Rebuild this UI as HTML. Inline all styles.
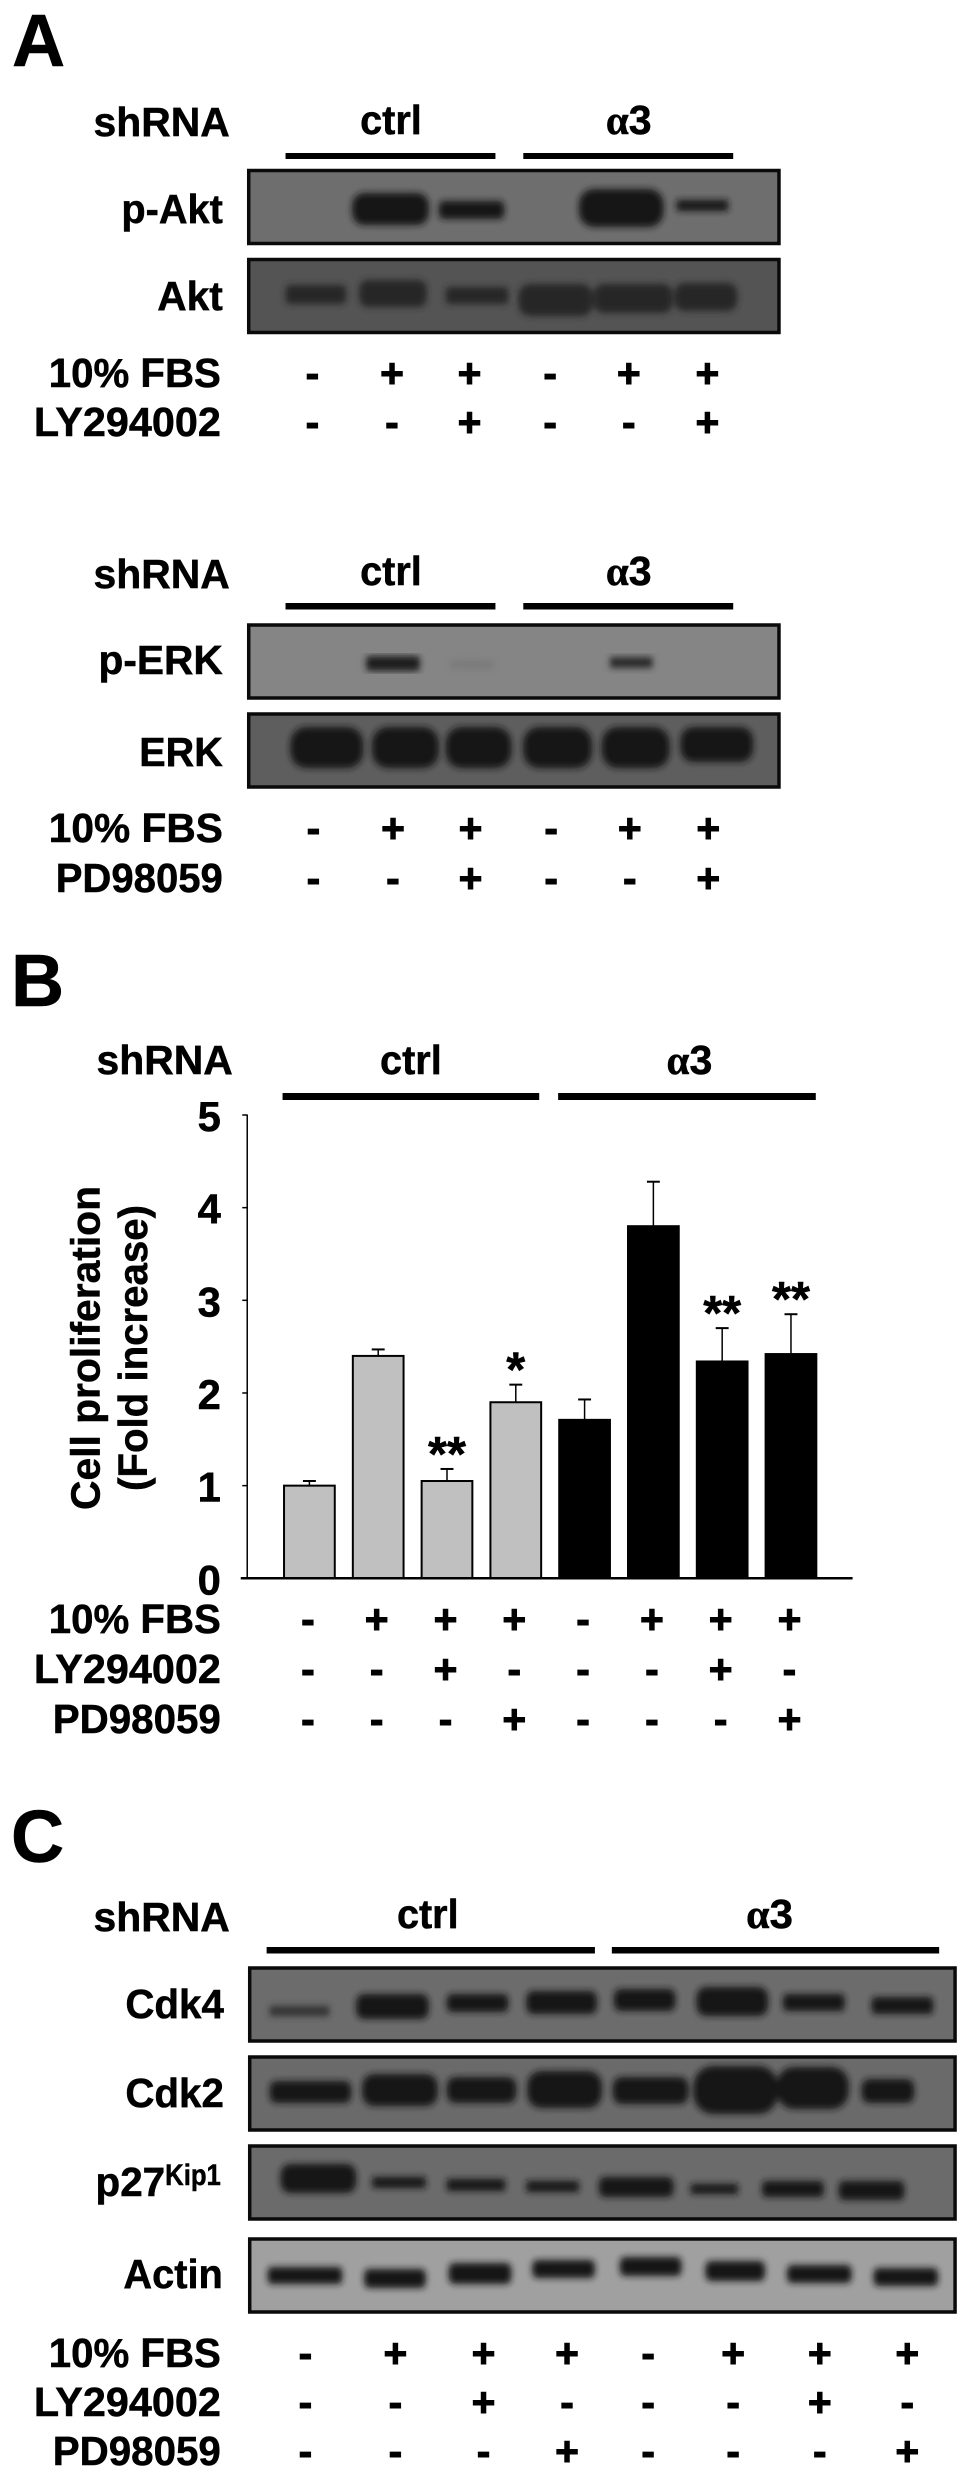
<!DOCTYPE html>
<html lang="en">
<head>
<meta charset="utf-8">
<title>Western blots and cell proliferation chart</title>
<style>
html,body{margin:0;padding:0;background:#fff;}
svg{display:block;}
text{font-family:"Liberation Sans",Arial,sans-serif;font-weight:bold;fill:#000;stroke:#000;stroke-width:.5;}
.lbl{font-size:41px;}
.sign{font-size:41px;text-anchor:middle;stroke-width:1;}
.letter{font-size:74px;}
.alpha{font-family:"Liberation Serif",serif;}
.blot{stroke:#0a0a0a;stroke-width:3.5;}
.bands rect{fill:#181818;}
</style>
</head>
<body>
<svg id="fig" xmlns="http://www.w3.org/2000/svg" width="969" height="2479" viewBox="0 0 974 2479" preserveAspectRatio="none">
<defs>
<filter id="blur" x="-30%" y="-100%" width="160%" height="300%"><feMorphology operator="dilate" radius="2 4"/><feGaussianBlur stdDeviation="3.2 3.5"/></filter>
</defs>
<rect width="974" height="2479" fill="#fff"/>

<!-- PANEL A -->
<g>
<text class="letter" x="12" y="66">A</text>
<text class="lbl" x="94" y="136" textLength="137" lengthAdjust="spacingAndGlyphs">shRNA</text>
<text class="lbl" x="362" y="134" textLength="62" lengthAdjust="spacingAndGlyphs">ctrl</text>
<text class="lbl" x="609" y="134" textLength="46" lengthAdjust="spacingAndGlyphs"><tspan class="alpha">α</tspan>3</text>
<rect x="287" y="153" width="211" height="6"/>
<rect x="526" y="153" width="211" height="6"/>

<rect class="blot" x="250" y="170.5" width="533" height="73" fill="#6e6e6e"/>
<g class="bands" filter="url(#blur)">
<rect x="356" y="197" width="73" height="24" rx="12"/>
<rect x="443" y="205" width="62" height="10" rx="5"/>
<rect x="584" y="193" width="81" height="30" rx="15"/>
<rect x="682" y="204" width="48" height="3" rx="1"/>
</g>
<rect class="blot" x="250" y="259.5" width="533" height="73" fill="#545454"/>
<g class="bands" filter="url(#blur)">
<rect x="289" y="289" width="57" height="11" rx="5" style="fill:#262626"/>
<rect x="363" y="284" width="64" height="19" rx="9" style="fill:#262626"/>
<rect x="450" y="291" width="59" height="9" rx="4" style="fill:#262626"/>
<rect x="523" y="288" width="71" height="24" rx="12" style="fill:#262626"/>
<rect x="599" y="288" width="75" height="21" rx="10" style="fill:#262626"/>
<rect x="680" y="287" width="59" height="20" rx="10" style="fill:#262626"/>
</g>
<text class="lbl" x="122" y="223" textLength="102" lengthAdjust="spacingAndGlyphs">p-Akt</text>
<text class="lbl" x="158" y="310" textLength="66" lengthAdjust="spacingAndGlyphs">Akt</text>

<text class="lbl" x="49" y="387" textLength="173" lengthAdjust="spacingAndGlyphs">10% FBS</text>
<text class="lbl" x="34" y="436" textLength="188" lengthAdjust="spacingAndGlyphs">LY294002</text>
<text class="sign" x="314 394 472 553 632 711" y="387">-++-++</text>
<text class="sign" x="314 394 472 553 632 711" y="436">--+--+</text>

<text class="lbl" x="94" y="588" textLength="137" lengthAdjust="spacingAndGlyphs">shRNA</text>
<text class="lbl" x="362" y="585" textLength="62" lengthAdjust="spacingAndGlyphs">ctrl</text>
<text class="lbl" x="609" y="585" textLength="46" lengthAdjust="spacingAndGlyphs"><tspan class="alpha">α</tspan>3</text>
<rect x="287" y="603" width="211" height="6.5"/>
<rect x="526" y="603" width="211" height="6.5"/>

<rect class="blot" x="250" y="625" width="533" height="73" fill="#858585"/>
<g class="bands" filter="url(#blur)">
<rect x="370" y="660" width="50" height="7" rx="3" style="fill:#1c1c1c"/>
<rect x="454" y="664" width="40" height="1" rx="0.5" style="fill:#7a7a7a"/>
<rect x="615" y="661" width="39" height="3" rx="1.5" style="fill:#2a2a2a"/>
</g>
<rect class="blot" x="250" y="714" width="533" height="73" fill="#5e5e5e"/>
<g class="bands" filter="url(#blur)">
<rect x="294" y="731" width="69" height="33" rx="16"/>
<rect x="376" y="731" width="63" height="33" rx="16"/>
<rect x="450" y="731" width="62" height="33" rx="16"/>
<rect x="528" y="731" width="65" height="33" rx="16"/>
<rect x="607" y="731" width="64" height="33" rx="16"/>
<rect x="686" y="731" width="69" height="27" rx="13"/>
</g>
<text class="lbl" x="99" y="674" textLength="125" lengthAdjust="spacingAndGlyphs">p-ERK</text>
<text class="lbl" x="140" y="766" textLength="84" lengthAdjust="spacingAndGlyphs">ERK</text>

<text class="lbl" x="49" y="842" textLength="175" lengthAdjust="spacingAndGlyphs">10% FBS</text>
<text class="lbl" x="56" y="892" textLength="168" lengthAdjust="spacingAndGlyphs">PD98059</text>
<text class="sign" x="315 395 473 554 633 712" y="842">-++-++</text>
<text class="sign" x="315 395 473 554 633 712" y="892">--+--+</text>
</g>

<!-- PANEL B -->
<g id="panel-b">
<text class="letter" x="11" y="1006">B</text>
<text class="lbl" x="97" y="1074" textLength="137" lengthAdjust="spacingAndGlyphs">shRNA</text>
<text class="lbl" x="382" y="1074" textLength="62" lengthAdjust="spacingAndGlyphs">ctrl</text>
<text class="lbl" x="670" y="1074" textLength="46" lengthAdjust="spacingAndGlyphs"><tspan class="alpha">α</tspan>3</text>
<rect x="284" y="1093" width="258" height="7"/>
<rect x="561" y="1093" width="259" height="7"/>
<text class="lbl" transform="translate(100 1510) rotate(-90)" textLength="324" lengthAdjust="spacingAndGlyphs">Cell proliferation</text>
<text class="lbl" transform="translate(148 1491) rotate(-90)" textLength="286" lengthAdjust="spacingAndGlyphs">(Fold increase)</text>
<text class="lbl" x="49" y="1633" textLength="173" lengthAdjust="spacingAndGlyphs">10% FBS</text>
<text class="lbl" x="34" y="1683" textLength="188" lengthAdjust="spacingAndGlyphs">LY294002</text>
<text class="lbl" x="53" y="1733" textLength="169" lengthAdjust="spacingAndGlyphs">PD98059</text>
</g>

<!-- PANEL C -->
<g>
<text class="letter" x="11" y="1862">C</text>
<text class="lbl" x="94" y="1931" textLength="137" lengthAdjust="spacingAndGlyphs">shRNA</text>
<text class="lbl" x="399" y="1928" textLength="62" lengthAdjust="spacingAndGlyphs">ctrl</text>
<text class="lbl" x="750" y="1928" textLength="47" lengthAdjust="spacingAndGlyphs"><tspan class="alpha">α</tspan>3</text>
<rect x="268" y="1947" width="330" height="6.5"/>
<rect x="615" y="1947" width="329" height="6.5"/>

<rect class="blot" x="251" y="1968" width="709" height="73" fill="#6c6c6c"/>
<g class="bands" filter="url(#blur)">
<rect x="273" y="2010" width="56" height="2" rx="1" style="fill:#333"/>
<rect x="360" y="1998" width="69" height="17" rx="8"/>
<rect x="451" y="1998" width="58" height="10" rx="5"/>
<rect x="531" y="1995" width="67" height="15" rx="7"/>
<rect x="619" y="1993" width="58" height="14" rx="7"/>
<rect x="702" y="1991" width="68" height="21" rx="10"/>
<rect x="789" y="1998" width="58" height="9" rx="4"/>
<rect x="878" y="2001" width="58" height="9" rx="4"/>
</g>
<rect class="blot" x="251" y="2057" width="709" height="73" fill="#6a6a6a"/>
<g class="bands" filter="url(#blur)">
<rect x="273" y="2085" width="78" height="14" rx="7"/>
<rect x="366" y="2078" width="72" height="24" rx="12"/>
<rect x="451" y="2081" width="66" height="18" rx="9"/>
<rect x="532" y="2075" width="71" height="29" rx="14"/>
<rect x="618" y="2081" width="72" height="19" rx="9"/>
<rect x="699" y="2070" width="81" height="40" rx="20"/>
<rect x="783" y="2071" width="68" height="34" rx="17"/>
<rect x="868" y="2083" width="49" height="16" rx="8"/>
</g>
<rect class="blot" x="251" y="2146" width="709" height="73" fill="#6b6b6b"/>
<g class="bands" filter="url(#blur)">
<rect x="284" y="2168" width="72" height="21" rx="10"/>
<rect x="376" y="2181" width="50" height="3" rx="1"/>
<rect x="451" y="2183" width="55" height="4" rx="2"/>
<rect x="531" y="2185" width="49" height="3" rx="1"/>
<rect x="604" y="2181" width="71" height="12" rx="6"/>
<rect x="696" y="2188" width="44" height="2" rx="1"/>
<rect x="768" y="2185" width="58" height="8" rx="4"/>
<rect x="845" y="2185" width="62" height="11" rx="5"/>
</g>
<rect class="blot" x="251" y="2239" width="709" height="73" fill="#a0a0a0"/>
<g class="bands" filter="url(#blur)">
<rect x="271" y="2271" width="71" height="9" rx="4"/>
<rect x="368" y="2273" width="58" height="11" rx="5"/>
<rect x="453" y="2267" width="59" height="13" rx="6"/>
<rect x="537" y="2264" width="59" height="10" rx="5"/>
<rect x="625" y="2261" width="58" height="11" rx="5"/>
<rect x="711" y="2265" width="56" height="12" rx="6"/>
<rect x="793" y="2269" width="61" height="10" rx="5"/>
<rect x="880" y="2272" width="61" height="10" rx="5"/>
</g>
<text class="lbl" x="126" y="2018" textLength="99" lengthAdjust="spacingAndGlyphs">Cdk4</text>
<text class="lbl" x="126" y="2107" textLength="99" lengthAdjust="spacingAndGlyphs">Cdk2</text>
<text class="lbl" x="96" y="2196" textLength="70" lengthAdjust="spacingAndGlyphs">p27</text>
<text x="166" y="2185" font-size="30" textLength="56" lengthAdjust="spacingAndGlyphs">Kip1</text>
<text class="lbl" x="124" y="2288" textLength="100" lengthAdjust="spacingAndGlyphs">Actin</text>

<text class="lbl" x="49" y="2367" textLength="173" lengthAdjust="spacingAndGlyphs">10% FBS</text>
<text class="lbl" x="34" y="2416" textLength="188" lengthAdjust="spacingAndGlyphs">LY294002</text>
<text class="lbl" x="53" y="2465" textLength="169" lengthAdjust="spacingAndGlyphs">PD98059</text>
<text class="sign" x="307 397.5 486 570 651.5 737 824 912" y="2367">-+++-+++</text>
<text class="sign" x="307 397.5 486 570 651.5 737 824 912" y="2416">--+---+-</text>
<text class="sign" x="307 397.5 486 570 651.5 737 824 912" y="2465">---+---+</text>
</g>
</svg>

<script>
// Chart data, panel B
const categories = ['ctrl-1','ctrl-2','ctrl-3','ctrl-4','a3-1','a3-2','a3-3','a3-4'];
const groups = ['ctrl','ctrl','ctrl','ctrl','a3','a3','a3','a3'];
const means = [1.0, 2.40, 1.05, 1.90, 1.71, 3.80, 2.34, 2.42];
const errorTops = [1.05, 2.47, 1.18, 2.09, 1.93, 4.28, 2.70, 2.85];
const significance = ['', '', '**', '*', '', '', '**', '**'];
const yTicks = ['0','1','2','3','4','5'];
const fbsSigns = ['-','+','+','+','-','+','+','+'];
const lySigns = ['-','-','+','-','-','-','+','-'];
const pdSigns = ['-','-','-','+','-','-','-','+'];

const NS = 'http://www.w3.org/2000/svg';
const panel = document.getElementById('panel-b');
function yScale(v){ return 1578.3 - v * 92.66; }
function xScale(i){ return 311 + i * 69.15; }
function make(tag, props){
  const el = document.createElementNS(NS, tag);
  for (const k in props) el.setAttribute(k, props[k]);
  panel.appendChild(el);
  return el;
}

yTicks.forEach(function(t){
  const v = Number(t);
  const tick = make('line', {x1:243.5, x2:249, y1:yScale(v), y2:yScale(v), stroke:'#000', 'stroke-width':1.5});
  
  
  const lab = make('text', {x:222, y:yScale(v) + 16, 'text-anchor':'end', 'font-size':42});
  lab.textContent = t;
  
  
});

means.forEach(function(m, i){
  const cx = xScale(i);
  const err = make('line', {x1:cx, x2:cx, y1:yScale(m), y2:yScale(errorTops[i]), stroke:'#000', 'stroke-width':1.5});
  
  
  const cap = make('line', {x1:cx - 6.5, x2:cx + 6.5, y1:yScale(errorTops[i]), y2:yScale(errorTops[i]), stroke:'#000', 'stroke-width':2});
  
  
  const isCtrl = groups[i] === 'ctrl';
  const bar = make('rect', {x:cx - 25.5, y:yScale(m), width:51, height:yScale(0) - yScale(m), fill:isCtrl ? '#c0c0c0' : '#000', stroke:'#000', 'stroke-width':2});
  
  
  if (significance[i]) {
    const star = make('text', {x:cx, y:yScale(errorTops[i]) + 2, 'text-anchor':'middle', 'font-size':49});
    star.textContent = significance[i];
    
    
  }
});

const yAxis = make('line', {x1:248.5, x2:248.5, y1:yScale(5), y2:yScale(0), stroke:'#000', 'stroke-width':1.5});


const xAxis = make('line', {x1:242, x2:857, y1:yScale(0), y2:yScale(0), stroke:'#000', 'stroke-width':2.5});



[[fbsSigns, 1633, 'fbs'], [lySigns, 1683, 'ly294002'], [pdSigns, 1733, 'pd98059']].forEach(function(row){
  row[0].forEach(function(s, i){
    const t = make('text', {x:xScale(i) - 1.5, y:row[1], 'class':'sign'});
    t.textContent = s;
    
    
  });
});
</script>
</body>
</html>
